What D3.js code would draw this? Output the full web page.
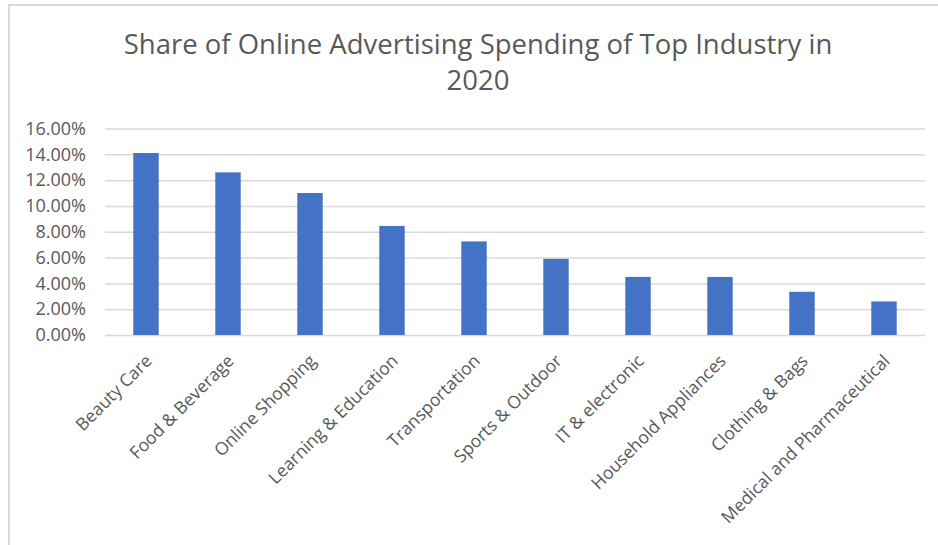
<!DOCTYPE html>
<html>
<head>
<meta charset="utf-8">
<script src="https://cdn.jsdelivr.net/npm/d3@7"></script>
<style>
  html, body { margin: 0; padding: 0; background: #fff; }
  svg { display: block; }
  text { font-family: "Open Sans", "Noto Sans", sans-serif; fill: #595959; }
</style>
</head>
<body>
<svg id="chart" width="938" height="545"></svg>
<script>
// Share of online advertising spending by industry, 2020 (percent)
const industries = [
  "Beauty Care", "Food & Beverage", "Online Shopping", "Learning & Education",
  "Transportation", "Sports & Outdoor", "IT & electronic", "Household Appliances",
  "Clothing & Bags", "Medical and Pharmaceutical"
];
const shares = [14.1, 12.6, 11.0, 8.45, 7.25, 5.9, 4.5, 4.5, 3.35, 2.6];
const yTicks = [0, 2, 4, 6, 8, 10, 12, 14, 16];
const titleLines = ["Share of Online Advertising Spending of Top Industry in", "2020"];

const svg = d3.select("#chart");
const W = 938, H = 545;
const plot = { left: 105, right: 925, top: 128.5, bottom: 335 };

// chart frame (left and top edges visible)
svg.append("path")
  .attr("d", `M9,${H} L9,5 L${W},5`)
  .attr("fill", "none")
  .attr("stroke", "#d9d9d9")
  .attr("stroke-width", 2);

// title
const title = svg.append("text")
  .attr("text-anchor", "middle")
  .style("font-size", "27.5px");
title.selectAll("tspan")
  .data(titleLines)
  .join("tspan")
  .attr("x", 478)
  .attr("y", (d, i) => 54 + i * 36)
  .text(d => d);

const x = d3.scaleBand()
  .domain(industries)
  .range([plot.left, plot.right])
  .paddingInner(0.69)
  .paddingOuter(0.345);

const y = d3.scaleLinear()
  .domain([0, 16])
  .range([plot.bottom, plot.top]);

// horizontal gridlines + y labels
const yAxis = d3.axisLeft(y)
  .tickValues(yTicks)
  .tickSize(-(plot.right - plot.left))
  .tickPadding(19)
  .tickFormat(d => d.toFixed(2) + "%");

const gy = svg.append("g")
  .attr("transform", `translate(${plot.left},0)`)
  .call(yAxis);
gy.select(".domain").remove();
gy.selectAll(".tick line").attr("stroke", "#d9d9d9").attr("stroke-width", 1.5);
gy.selectAll(".tick text")
  .style("font-size", "18px")
  .style("font-family", "'Open Sans', sans-serif")
  .attr("fill", "#595959");

// bars
svg.append("g")
  .selectAll("rect")
  .data(industries.map((name, i) => ({ name, value: shares[i] })))
  .join("rect")
  .attr("x", d => x(d.name))
  .attr("width", x.bandwidth())
  .attr("y", d => y(d.value))
  .attr("height", d => y(0) - y(d.value))
  .attr("fill", "#4472c4");

// x axis category labels, rotated
const xAxis = d3.axisBottom(x).tickSize(0).tickPadding(0);
const gx = svg.append("g")
  .attr("transform", `translate(0,${plot.bottom})`)
  .call(xAxis);
gx.select(".domain").remove();
gx.selectAll(".tick text")
  .style("font-size", "17.5px")
  .style("font-family", "'Open Sans', sans-serif")
  .attr("fill", "#595959")
  .attr("text-anchor", "end")
  .attr("y", 0)
  .attr("dy", 0)
  .attr("transform", "translate(7,27) rotate(-45)");
</script>
</body>
</html>
